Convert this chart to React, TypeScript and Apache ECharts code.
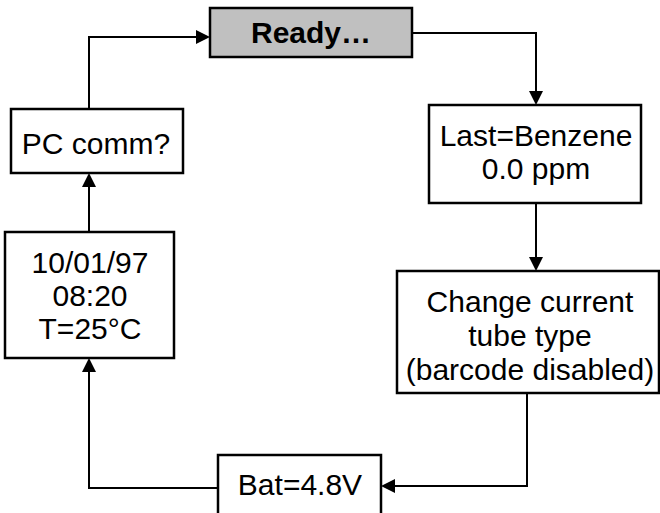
import React, { useEffect, useRef } from "react";
import * as echarts from "echarts";

// Flowchart content
const NODE_LABELS: string[] = [
  "Ready…",
  "Last=Benzene\n0.0 ppm",
  "Change current\ntube type\n(barcode disabled)",
  "Bat=4.8V",
  "10/01/97\n08:20\nT=25°C",
  "PC comm?",
];
const NODE_BOLD: boolean[] = [true, false, false, false, false, false];
const NODE_FILL: string[] = ["#c0c0c0", "#ffffff", "#ffffff", "#ffffff", "#ffffff", "#ffffff"];

// Layout (diagram coordinates, y downward): [x0, y0, x1, y1]
const NODE_BOXES: number[][] = [
  [210, 8, 412, 57],
  [429, 105, 641, 203],
  [397, 271, 659, 393],
  [218, 455, 381, 545],
  [5, 232, 174, 358],
  [11, 109, 183, 173],
];
const NODE_TEXT_Y: number[] = [32, 152, 335, 484, 295, 143];
const NODE_TEXT_X: number[] = [311, 536, 530, 300, 90, 96];
const NODE_LINE_H: number[] = [33, 33, 34, 33, 33, 33];

// Connectors: polyline points, arrow at last point
const CONNECTORS: number[][][] = [
  [[89, 109], [89, 37], [210, 37]],
  [[412, 33], [536, 33], [536, 105]],
  [[536, 203], [536, 271]],
  [[527, 393], [527, 486], [381, 486]],
  [[218, 488], [89, 488], [89, 358]],
  [[89, 232], [89, 173]],
];

export default function App() {
  const ref = useRef<HTMLDivElement>(null);
  useEffect(() => {
    document.body.style.margin = "0";
    const chart = echarts.init(ref.current!, null, { renderer: "svg" });
    const option: any = {
      animation: false,
      backgroundColor: "#ffffff",
      grid: { left: 0, right: 0, top: 0, bottom: 0 },
      xAxis: { type: "value", min: 0, max: 660, show: false },
      yAxis: { type: "value", min: 0, max: 513, inverse: true, show: false },
      series: [
        {
          type: "custom",
          coordinateSystem: "cartesian2d",
          clip: false,
          data: CONNECTORS.map((c) => [c[0][0], c[0][1]]),
          renderItem: (params: any, api: any) => {
            const conn = CONNECTORS[params.dataIndex];
            const pts = conn.map((p) => api.coord(p));
            const n = pts.length;
            const end = pts[n - 1];
            const prev = pts[n - 2];
            const dx = end[0] - prev[0];
            const dy = end[1] - prev[1];
            const len = Math.sqrt(dx * dx + dy * dy) || 1;
            const ux = dx / len;
            const uy = dy / len;
            const L = 14;
            const W = 7;
            const bx = end[0] - ux * L;
            const by = end[1] - uy * L;
            const linePts = pts.slice(0, n - 1).concat([[bx, by]]);
            return {
              type: "group",
              children: [
                {
                  type: "polyline",
                  shape: { points: linePts },
                  style: { stroke: "#000", lineWidth: 2, fill: null },
                },
                {
                  type: "polygon",
                  shape: {
                    points: [
                      [end[0], end[1]],
                      [bx - uy * W, by + ux * W],
                      [bx + uy * W, by - ux * W],
                    ],
                  },
                  style: { fill: "#000", stroke: null },
                },
              ],
            };
          },
        },
        {
          type: "custom",
          coordinateSystem: "cartesian2d",
          clip: false,
          data: NODE_BOXES.map((b) => [b[0], b[1]]),
          renderItem: (params: any, api: any) => {
            const i = params.dataIndex;
            const b = NODE_BOXES[i];
            const p0 = api.coord([b[0], b[1]]);
            const p1 = api.coord([b[2], b[3]]);
            const tc = api.coord([NODE_TEXT_X[i], NODE_TEXT_Y[i]]);
            return {
              type: "group",
              children: [
                {
                  type: "rect",
                  shape: { x: p0[0], y: p0[1], width: p1[0] - p0[0], height: p1[1] - p0[1] },
                  style: { fill: NODE_FILL[i], stroke: "#000", lineWidth: 2.5 },
                },
                {
                  type: "text",
                  style: {
                    text: NODE_LABELS[i],
                    x: tc[0],
                    y: tc[1],
                    align: "center",
                    verticalAlign: "middle",
                    fontFamily: "Liberation Sans, Arial, sans-serif",
                    fontSize: 30,
                    fontWeight: NODE_BOLD[i] ? "bold" : "normal",
                    lineHeight: NODE_LINE_H[i],
                    fill: "#000",
                  },
                },
              ],
            };
          },
        },
      ],
    };
    chart.setOption(option);
    return () => chart.dispose();
  }, []);
  return <div ref={ref} style={{ width: 660, height: 513 }} />;
}
